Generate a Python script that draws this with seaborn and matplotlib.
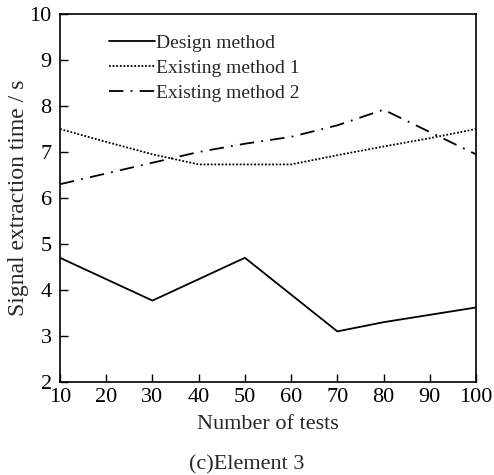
import matplotlib
matplotlib.use("Agg")
import matplotlib.pyplot as plt
import seaborn as sns
import pandas as pd

design_x = [10, 30, 50, 70, 80, 100]
design_y = [4.7, 3.77, 4.7, 3.1, 3.3, 3.62]
exist1_x = [10, 20, 30, 40, 50, 60, 70, 80, 90, 100]
exist1_y = [7.5, 7.22, 6.95, 6.73, 6.73, 6.73, 6.93, 7.12, 7.3, 7.5]
exist2_x = [10, 40, 50, 60, 70, 80, 100]
exist2_y = [6.3, 7.0, 7.18, 7.33, 7.58, 7.92, 6.95]
xticks = [10, 20, 30, 40, 50, 60, 70, 80, 90, 100]
yticks = [2, 3, 4, 5, 6, 7, 8, 9, 10]

sns.set_style("ticks")
plt.rcParams['font.family'] = ['Liberation Serif', 'DejaVu Serif']

fig = plt.figure(figsize=(4.94, 4.75), dpi=100)
ax = fig.add_axes([0.1215, 0.1958, 0.842, 0.7747])

d1 = pd.DataFrame({"x": design_x, "y": design_y})
d2 = pd.DataFrame({"x": exist1_x, "y": exist1_y})
d3 = pd.DataFrame({"x": exist2_x, "y": exist2_y})

sns.lineplot(data=d1, x="x", y="y", ax=ax, color="black", lw=1.3, label="Design method")
sns.lineplot(data=d2, x="x", y="y", ax=ax, color="black", lw=1.3, linestyle=(0, (1, 1)), label="Existing method 1")
sns.lineplot(data=d3, x="x", y="y", ax=ax, color="black", lw=1.3, linestyle=(0, (8, 4, 1, 4)), label="Existing method 2")

ax.set_xlim(10, 100)
ax.set_ylim(2, 10)
ax.set_xticks(xticks)
ax.set_yticks(yticks)
ax.tick_params(direction="in", length=6, width=1, labelsize=16, colors="black")
ax.tick_params(axis="x", pad=4)
ax.tick_params(axis="y", pad=6)
for s in ax.spines.values():
    s.set_linewidth(1.2)
    s.set_color("black")
ax.set_xlabel("Number of tests", fontsize=16, labelpad=6)
ax.set_ylabel("Signal extraction time / s", fontsize=17, labelpad=0)

leg = ax.legend(loc="upper left", bbox_to_anchor=(0.1, 0.965), frameon=False, fontsize=14,
                handlelength=2.35, handletextpad=0.05, labelspacing=0.38, borderaxespad=0)

fig.text(0.5, 0.012, "(c)Element 3", ha="center", fontsize=16)
fig.savefig("out.png", dpi=100)
